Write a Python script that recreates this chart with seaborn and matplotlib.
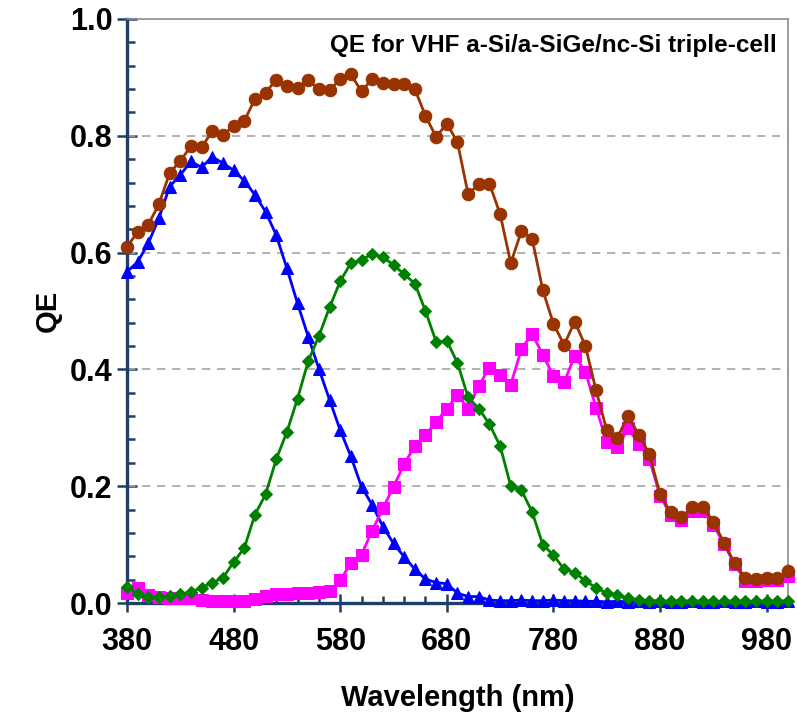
import numpy as np
import pandas as pd
import matplotlib
matplotlib.use("Agg")
import matplotlib.pyplot as plt
import seaborn as sns
from matplotlib.ticker import FixedLocator, MultipleLocator

# --- data ---
wavelength = [380, 390, 400, 410, 420, 430, 440, 450, 460, 470,
              480, 490, 500, 510, 520, 530, 540, 550, 560, 570,
              580, 590, 600, 610, 620, 630, 640, 650, 660, 670,
              680, 690, 700, 710, 720, 730, 740, 750, 760, 770,
              780, 790, 800, 810, 820, 830, 840, 850, 860, 870,
              880, 890, 900, 910, 920, 930, 940, 950, 960, 970,
              980, 990, 1000]

qe_total = [0.610, 0.635, 0.648, 0.683, 0.736, 0.757, 0.782, 0.780, 0.808, 0.801,
            0.817, 0.825, 0.863, 0.874, 0.896, 0.886, 0.882, 0.895, 0.880, 0.878,
            0.897, 0.905, 0.876, 0.897, 0.891, 0.888, 0.888, 0.880, 0.834, 0.798,
            0.821, 0.789, 0.700, 0.717, 0.718, 0.666, 0.582, 0.637, 0.624, 0.536,
            0.478, 0.442, 0.482, 0.440, 0.364, 0.296, 0.283, 0.321, 0.288, 0.255,
            0.186, 0.155, 0.147, 0.164, 0.165, 0.139, 0.103, 0.068, 0.043, 0.041,
            0.043, 0.043, 0.054]

qe_top = [0.567, 0.584, 0.616, 0.659, 0.713, 0.733, 0.756, 0.746, 0.764, 0.753,
          0.741, 0.723, 0.699, 0.670, 0.630, 0.573, 0.513, 0.456, 0.401, 0.348,
          0.296, 0.251, 0.199, 0.168, 0.131, 0.102, 0.079, 0.058, 0.041, 0.035,
          0.033, 0.017, 0.011, 0.011, 0.005, 0.004, 0.004, 0.005, 0.004, 0.004,
          0.005, 0.004, 0.004, 0.003, 0.003, 0.002, 0.003, 0.002, 0.003, 0.002,
          0.003, 0.002, 0.002, 0.003, 0.002, 0.002, 0.003, 0.002, 0.002, 0.003,
          0.002, 0.002, 0.003]

qe_middle = [0.028, 0.015, 0.010, 0.010, 0.012, 0.015, 0.019, 0.026, 0.035, 0.043,
             0.070, 0.094, 0.151, 0.186, 0.246, 0.293, 0.350, 0.414, 0.457, 0.506,
             0.551, 0.582, 0.587, 0.598, 0.592, 0.579, 0.563, 0.547, 0.500, 0.447,
             0.449, 0.411, 0.352, 0.333, 0.306, 0.269, 0.200, 0.193, 0.156, 0.100,
             0.082, 0.058, 0.052, 0.038, 0.026, 0.017, 0.014, 0.008, 0.006, 0.004,
             0.004, 0.003, 0.004, 0.003, 0.004, 0.003, 0.003, 0.004, 0.003, 0.003,
             0.004, 0.003, 0.004]

qe_bottom = [0.017, 0.025, 0.014, 0.011, 0.008, 0.009, 0.008, 0.006, 0.004, 0.003,
             0.003, 0.004, 0.007, 0.012, 0.016, 0.016, 0.017, 0.018, 0.019, 0.020,
             0.039, 0.068, 0.083, 0.124, 0.162, 0.199, 0.238, 0.269, 0.288, 0.310,
             0.333, 0.356, 0.333, 0.372, 0.403, 0.390, 0.374, 0.435, 0.461, 0.425,
             0.389, 0.378, 0.423, 0.396, 0.334, 0.276, 0.267, 0.299, 0.273, 0.246,
             0.184, 0.150, 0.142, 0.158, 0.158, 0.134, 0.101, 0.066, 0.038, 0.038,
             0.040, 0.040, 0.046]

x_major = [380, 480, 580, 680, 780, 880, 980]

df = pd.DataFrame({"wl": wavelength, "total": qe_total, "top": qe_top,
                   "middle": qe_middle, "bottom": qe_bottom})

# --- style ---
sns.set_style("white")
plt.rcParams['font.family'] = ['Liberation Sans', 'DejaVu Sans']
plt.rcParams['font.weight'] = 'bold'
plt.rcParams['text.color'] = 'black'
plt.rcParams['axes.labelcolor'] = 'black'
plt.rcParams['xtick.labelcolor'] = 'black'
plt.rcParams['ytick.labelcolor'] = 'black'

navy = "#1F3F66"

fig = plt.figure(figsize=(7.97, 7.16), dpi=100)
ax = fig.add_axes([0.1593, 0.1578, 0.8294, 0.8157])

# series: (column, colour, marker, size)
series = [
    ("top", "#0000FF", "^", 8.5),
    ("bottom", "#FF00FF", "s", 8),
    ("middle", "#008000", "D", 6.5),
    ("total", "#993300", "o", 9),
]
for col, c, m, ms in series:
    sns.lineplot(data=df, x="wl", y=col, ax=ax, color=c, marker=m,
                 markersize=ms, markeredgecolor=c, linewidth=2,
                 clip_on=False, zorder=3)

ax.set_xlim(380, 1000)
ax.set_ylim(0, 1.0)

ax.xaxis.set_major_locator(FixedLocator(x_major))
ax.xaxis.set_minor_locator(MultipleLocator(20))
ax.yaxis.set_major_locator(MultipleLocator(0.2))
ax.yaxis.set_minor_locator(MultipleLocator(0.04))
ax.yaxis.set_major_formatter(matplotlib.ticker.FormatStrFormatter("%.1f"))

ax.grid(False)
for yv in [0.2, 0.4, 0.6, 0.8]:
    ax.axhline(yv, color="#A6A6A6", linestyle=(0, (5, 4)), linewidth=1.2, zorder=1)

for side in ["left", "bottom"]:
    ax.spines[side].set_color(navy)
    ax.spines[side].set_linewidth(2.4)
for side in ["top", "right"]:
    ax.spines[side].set_color("#8C8C8C")
    ax.spines[side].set_linewidth(1.2)

ax.tick_params(axis="x", which="major", direction="inout", length=13, width=1.8,
               color=navy, labelsize=22, pad=11, bottom=True)
ax.tick_params(axis="x", which="minor", direction="in", length=5, width=1.8,
               color=navy, bottom=True)
ax.tick_params(axis="y", which="major", direction="inout", length=15, width=1.8,
               color=navy, labelsize=22, pad=3, left=True)
ax.tick_params(axis="y", which="minor", direction="in", length=6, width=1.8,
               color=navy, left=True)
for lab in ax.get_xticklabels() + ax.get_yticklabels():
    lab.set_fontweight("bold")

ax.set_xlabel("Wavelength (nm)", fontsize=21, fontweight="bold", labelpad=19)
ax.set_ylabel("QE", fontsize=21, fontweight="bold", labelpad=6)

ax.text(0.983, 0.955, "QE for VHF a-Si/a-SiGe/nc-Si triple-cell",
        transform=ax.transAxes, ha="right", va="center",
        fontsize=17.5, fontweight="bold")

fig.savefig("out.png", dpi=100)
